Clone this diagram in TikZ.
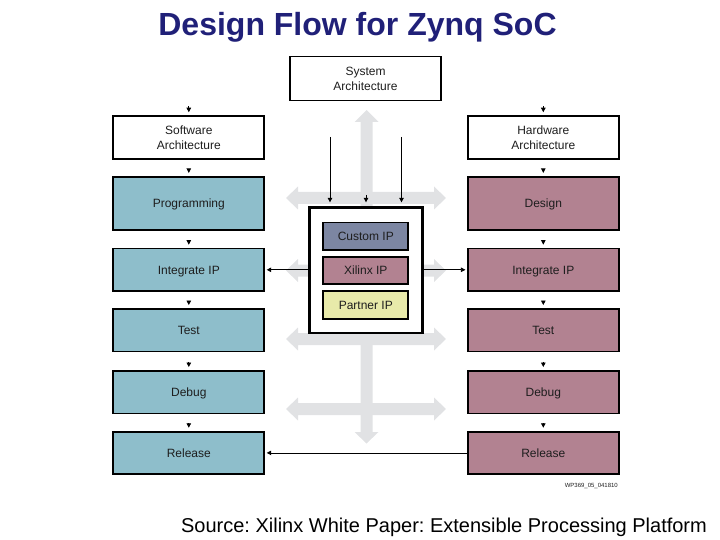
\documentclass[tikz,border=0pt]{standalone}
\usepackage{fontspec}
\setmainfont{Liberation Sans}
\usetikzlibrary{arrows.meta}
\definecolor{swcol}{RGB}{142,190,203}
\definecolor{hwcol}{RGB}{178,130,145}
\definecolor{customcol}{RGB}{124,134,162}
\definecolor{partnercol}{RGB}{232,234,170}
\definecolor{buscol}{RGB}{225,226,228}
\definecolor{titlecol}{RGB}{32,32,120}
\definecolor{txtcol}{RGB}{30,30,30}
\frenchspacing
\begin{document}
\begin{tikzpicture}[x=1pt,y=-1pt,
  box/.style={draw=black,line width=1.8pt,minimum width=151pt,minimum height=42.5pt,
    inner sep=0pt,align=center,text=txtcol,font=\fontsize{12}{15}\selectfont},
  swbox/.style={box,fill=swcol,text height=8.6pt,text depth=0pt},
  hwbox/.style={box,fill=hwcol,text height=8.6pt,text depth=0pt},
  wbox/.style={box,fill=white},
  ipchip/.style={draw=black,line width=1.8pt,minimum width=85pt,minimum height=27.5pt,
    inner sep=0pt,text=txtcol,font=\fontsize{12}{15}\selectfont,text height=8.6pt,text depth=0pt},
  conn/.style={draw=black,line width=0.8pt,-{Triangle[width=4.5pt,length=4.5pt]}},
  flowtip/.style={conn,shorten <=9.5pt,shorten >=3pt}]
\useasboundingbox (0,0) rectangle (720,540);
% grey bus arrows
\fill[buscol] (366.5,110) -- (378.5,122) -- (372.5,122) -- (372.5,432) -- (378.5,432)
  -- (366.5,443.5) -- (354.5,432) -- (360.5,432) -- (360.5,122) -- (354.5,122) -- cycle;
\foreach \c in {198,270.5,339,409}{
  \fill[buscol] (286,\c) -- (298,\c-11.5) -- (298,\c-6) -- (434,\c-6) -- (434,\c-11.5)
    -- (446,\c) -- (434,\c+11.5) -- (434,\c+6) -- (298,\c+6) -- (298,\c+11.5) -- cycle;
}
% title and source
\node[anchor=base,font=\fontsize{32}{36}\selectfont\bfseries,text=titlecol,inner sep=0pt]
  (title) at (357.5,36) {Design Flow for Zynq SoC};
\node[anchor=base,font=\fontsize{20}{24}\selectfont,inner sep=0pt]
  (source) at (444,532) {Source: Xilinx White Paper: Extensible Processing Platform};
% boxes
\node[wbox,minimum height=44pt] (sys) at (365.5,78.5) {System\\Architecture};
\node[wbox] (swarch) at (188.8,137.4) {Software\\Architecture};
\node[wbox] (hwarch) at (543.3,137.4) {Hardware\\Architecture};
\node[swbox,minimum height=53pt] (prog) at (188.8,203.3) {Programming};
\node[hwbox,minimum height=53pt] (design) at (543.3,203.3) {Design};
\node[swbox] (ipL) at (188.8,269.8) {Integrate IP};
\node[hwbox] (ipR) at (543.3,269.8) {Integrate IP};
\node[swbox] (testL) at (188.8,330.2) {Test};
\node[hwbox] (testR) at (543.3,330.2) {Test};
\node[swbox] (debugL) at (188.8,392.2) {Debug};
\node[hwbox] (debugR) at (543.3,392.2) {Debug};
\node[swbox] (relL) at (188.8,452.9) {Release};
\node[hwbox] (relR) at (543.3,452.9) {Release};
% central IP box
\node[draw=black,line width=2.4pt,fill=white,minimum width=113pt,minimum height=125.5pt,inner sep=0pt]
  (ipbox) at (365.8,270.3) {};
\node[ipchip,fill=customcol] (custom) at (365.8,236.2) {Custom IP};
\node[ipchip,fill=hwcol] (xilinx) at (365.8,270.4) {Xilinx IP};
\node[ipchip,fill=partnercol] (partner) at (365.8,305) {Partner IP};
% small flow arrows
\coordinate (swin) at (188.8,106.5);
\coordinate (hwin) at (543.3,106.5);
\draw[conn,shorten >=3pt] (swin) -- (swarch.north);
\draw[conn,shorten >=3pt] (hwin) -- (hwarch.north);
\draw[flowtip] (swarch.south) -- (prog.north);
\draw[flowtip] (prog.south) -- (ipL.north);
\draw[flowtip] (ipL.south) -- (testL.north);
\draw[flowtip] (testL.south) -- (debugL.north);
\draw[flowtip] (debugL.south) -- (relL.north);
\draw[flowtip] (hwarch.south) -- (design.north);
\draw[flowtip] (design.south) -- (ipR.north);
\draw[flowtip] (ipR.south) -- (testR.north);
\draw[flowtip] (testR.south) -- (debugR.north);
\draw[flowtip] (debugR.south) -- (relR.north);
% arrows into IP box
\coordinate (inL) at (330,137);
\coordinate (inR) at (401.5,137);
\coordinate (inM) at (366,195);
\draw[conn,shorten >=4pt] (inL) -- (inL |- ipbox.north);
\draw[conn,shorten >=4pt] (inR) -- (inR |- ipbox.north);
\draw[conn,shorten >=4pt] (inM) -- (inM |- ipbox.north);
% side connectors
\draw[conn,shorten >=1.5pt] (ipL.east -| ipbox.west) -- (ipL.east);
\draw[conn,shorten >=1.5pt] (ipR.west -| ipbox.east) -- (ipR.west);
\draw[conn,shorten >=1.5pt] (relR.west) -- (relL.east);
% figure id
\node[anchor=base east,font=\fontsize{6}{7}\selectfont,text=txtcol,inner sep=0pt]
  (figid) at (618,487) {WP369\_05\_041810};
\end{tikzpicture}
\end{document}
